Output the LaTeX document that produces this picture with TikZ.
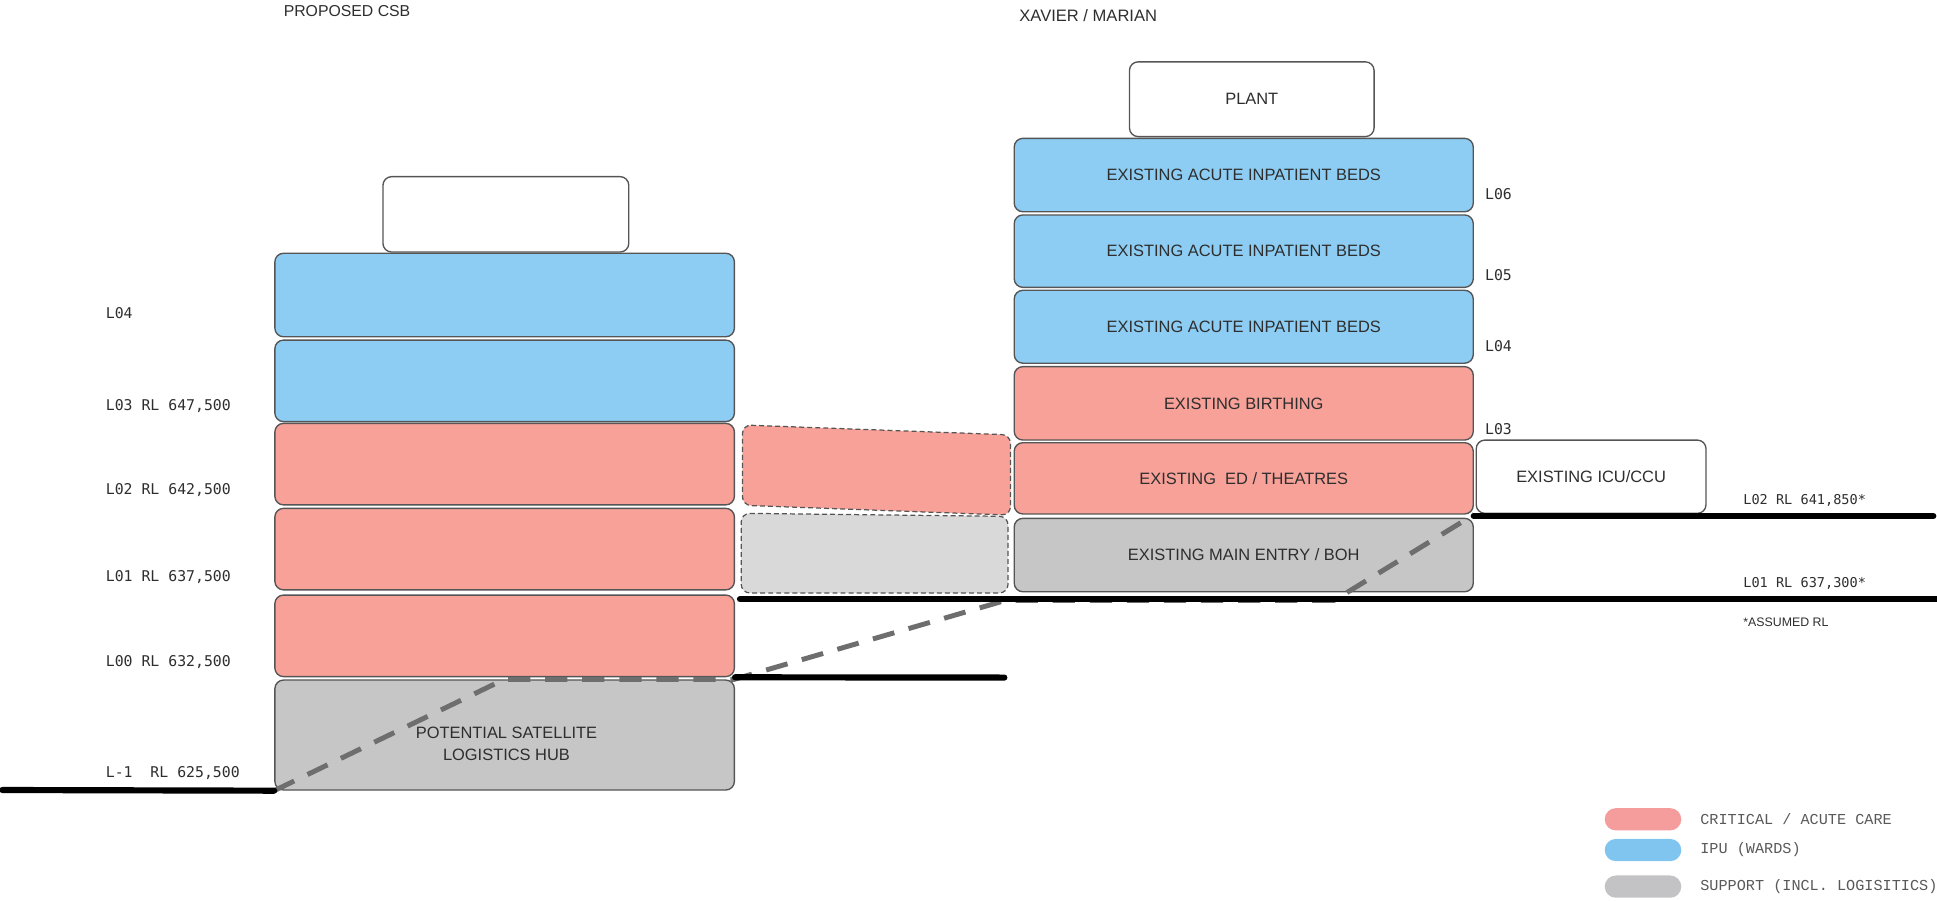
\documentclass[tikz,border=0pt]{standalone}
\usepackage{fontspec}
\setmainfont{Liberation Sans}
\newfontfamily\levelfont{DejaVu Sans Mono}
\newfontfamily\legendfont{Liberation Mono}
\usetikzlibrary{positioning}

\definecolor{ipublue}{HTML}{8DCDF4}
\definecolor{acutered}{HTML}{F7A199}
\definecolor{supportgrey}{HTML}{C6C6C6}
\definecolor{bridgegrey}{HTML}{D9D9D9}
\definecolor{edgegrey}{HTML}{555555}
\definecolor{routegrey}{HTML}{6E6E6E}
\definecolor{inkgrey}{HTML}{2E2E2E}
\definecolor{legred}{HTML}{F59D9D}
\definecolor{legblue}{HTML}{80C5F0}
\definecolor{leggrey}{HTML}{C3C3C6}

\begin{document}
\begin{tikzpicture}[x=1pt,y=-1pt,
  floor/.style={draw=edgegrey,line width=1.1pt,rounded corners=7pt,
    inner sep=0pt,text=inkgrey,align=center,
    font=\fontsize{13.3}{18}\selectfont},
  csb/.style={floor,minimum width=372pt},
  xm/.style={floor,minimum width=371.6pt},
  bridge/.style={draw=edgegrey,line width=1pt,
    dash pattern=on 4pt off 2.5pt,rounded corners=7pt},
  ground/.style={line width=5pt,line cap=round},
  route/.style={draw=routegrey,line width=4pt,dash pattern=on 18pt off 12pt},
  lvl/.style={anchor=west,inner sep=0pt,text=inkgrey,
    font=\levelfont\fontsize{12}{14}\selectfont},
  rl/.style={lvl,font=\levelfont\fontsize{11}{13}\selectfont},
  title/.style={anchor=west,inner sep=0pt,text=inkgrey,
    font=\fontsize{12.8}{15}\selectfont},
  pill/.style={minimum width=62pt,minimum height=18pt,
    rounded corners=9pt,inner sep=0pt},
  legtext/.style={inner sep=0pt,text=black!65,
    font=\legendfont\fontsize{12.3}{14}\selectfont}
]
\useasboundingbox (0,0) rectangle (1568,729);

% Titres
\node[title] (csbtitle) at (229.5,9) {PROPOSED CSB};
\node[title,font=\fontsize{13.4}{15}\selectfont] (xmtitle) at (825,13) {XAVIER / MARIAN};

% Proposed CSB
\node[floor,fill=white,minimum width=199pt,minimum height=61pt]
  (csbplant) at (409.5,173.5) {};
\node[csb,fill=ipublue,minimum height=67.6pt] (csbL04) at (408.5,238.8) {};
\node[csb,fill=ipublue,minimum height=66pt] (csbL03) at (408.5,308.3) {};
\node[csb,fill=acutered,minimum height=66pt] (csbL02) at (408.5,375.7) {};
\node[csb,fill=acutered,minimum height=66pt] (csbL01) at (408.5,444.5) {};
\node[csb,fill=acutered,minimum height=66pt] (csbL00) at (408.5,514.7) {};
\node[csb,fill=supportgrey,minimum height=89pt] (csbLm1) at (408.5,595) {};
\node[inner sep=0pt,text=inkgrey,align=center,
  font=\fontsize{13.3}{18}\selectfont]
  (hubtext) at (410,602) {POTENTIAL SATELLITE\\LOGISTICS HUB};

% Niveaux CSB
\node[lvl] (lvlL04) at (85.5,253.7) {L04};
\node[lvl] (lvlL03) at (85.5,329) {L03 RL 647,500};
\node[lvl] (lvlL02) at (85.5,397) {L02 RL 642,500};
\node[lvl] (lvlL01) at (85.5,467) {L01 RL 637,500};
\node[lvl] (lvlL00) at (85.5,536) {L00 RL 632,500};
\node[lvl] (lvlLm1) at (85.5,626) {L-1\ \ RL 625,500};

% Liaison
\draw[bridge,fill=acutered] (601,344) -- (818,352) -- (818,417) -- (601,409) -- cycle;
\draw[bridge,fill=bridgegrey] (600,415.5) -- (816,418) -- (816,480) -- (600,480) -- cycle;

% Xavier / Marian
\node[floor,fill=white,minimum width=198pt,minimum height=60.5pt]
  (xmplant) at (1013.3,80.3) {PLANT};
\node[xm,fill=ipublue,minimum height=59.4pt] (xmL06) at (1006.8,141.7)
  {EXISTING ACUTE INPATIENT BEDS};
\node[xm,fill=ipublue,minimum height=58.6pt] (xmL05) at (1006.8,203.3)
  {EXISTING ACUTE INPATIENT BEDS};
\node[xm,fill=ipublue,minimum height=59pt] (xmL04) at (1006.8,264.5)
  {EXISTING ACUTE INPATIENT BEDS};
\node[xm,fill=acutered,minimum height=59.4pt] (xmL03) at (1006.8,326.5)
  {EXISTING BIRTHING};
\node[xm,fill=acutered,minimum height=57.7pt] (xmL02) at (1006.8,387.2)
  {EXISTING\ \ ED / THEATRES};
\node[xm,fill=supportgrey,minimum height=59.4pt] (xmL01) at (1006.8,449.3)
  {EXISTING MAIN ENTRY / BOH};
\node[floor,fill=white,minimum width=186pt,minimum height=59.3pt]
  (xmicu) at (1288,385.9) {EXISTING ICU/CCU};

% Niveaux Xavier / Marian
\node[lvl] (lvlL06) at (1202,157) {L06};
\node[lvl] (lvlL05) at (1202,222.5) {L05};
\node[lvl] (lvlxL04) at (1202,280.5) {L04};
\node[lvl] (lvlxL03) at (1202,347) {L03};
\node[rl] (rlL02) at (1411,405) {L02 RL 641,850*};
\node[rl] (rlL01) at (1411,472.5) {L01 RL 637,300*};
\node[anchor=west,inner sep=0pt,text=inkgrey,font=\fontsize{10}{12}\selectfont]
  (assumed) at (1411,504) {*ASSUMED RL};

% Parcours
\draw[route] (csbLm1.south west) -- (408,550) -- (594,550)
  -- (814,486) -- (1080,486) -- (xmL02.south east);

% Terrain
\coordinate (gndW) at (2,639.5);
\coordinate (l00E) at (813,548.5);
\coordinate (l01W) at (599,485);
\coordinate (l01E) at (1568,485);
\coordinate (l02W) at (1193,417.8);
\coordinate (l02E) at (1565,417.8);
\draw[ground] (gndW) -- (csbLm1.south west);
\draw[ground] (csbL00.south east) -- (l00E);
\draw[ground] (l01W) -- (l01E);
\draw[ground] (l02W) -- (l02E);

% Legende
\node[pill,fill=legred] (legcrit) at (1330,663.2) {};
\node[pill,fill=legblue] (legipu) at (1330,688.1) {};
\node[pill,fill=leggrey] (legsup) at (1330,717.7) {};
\node[legtext,right=15pt of legcrit] (txtcrit) {CRITICAL / ACUTE CARE};
\node[legtext,right=15pt of legipu] (txtipu) {IPU (WARDS)};
\node[legtext,right=15pt of legsup] (txtsup) {SUPPORT (INCL. LOGISITICS)};

\end{tikzpicture}
\end{document}
